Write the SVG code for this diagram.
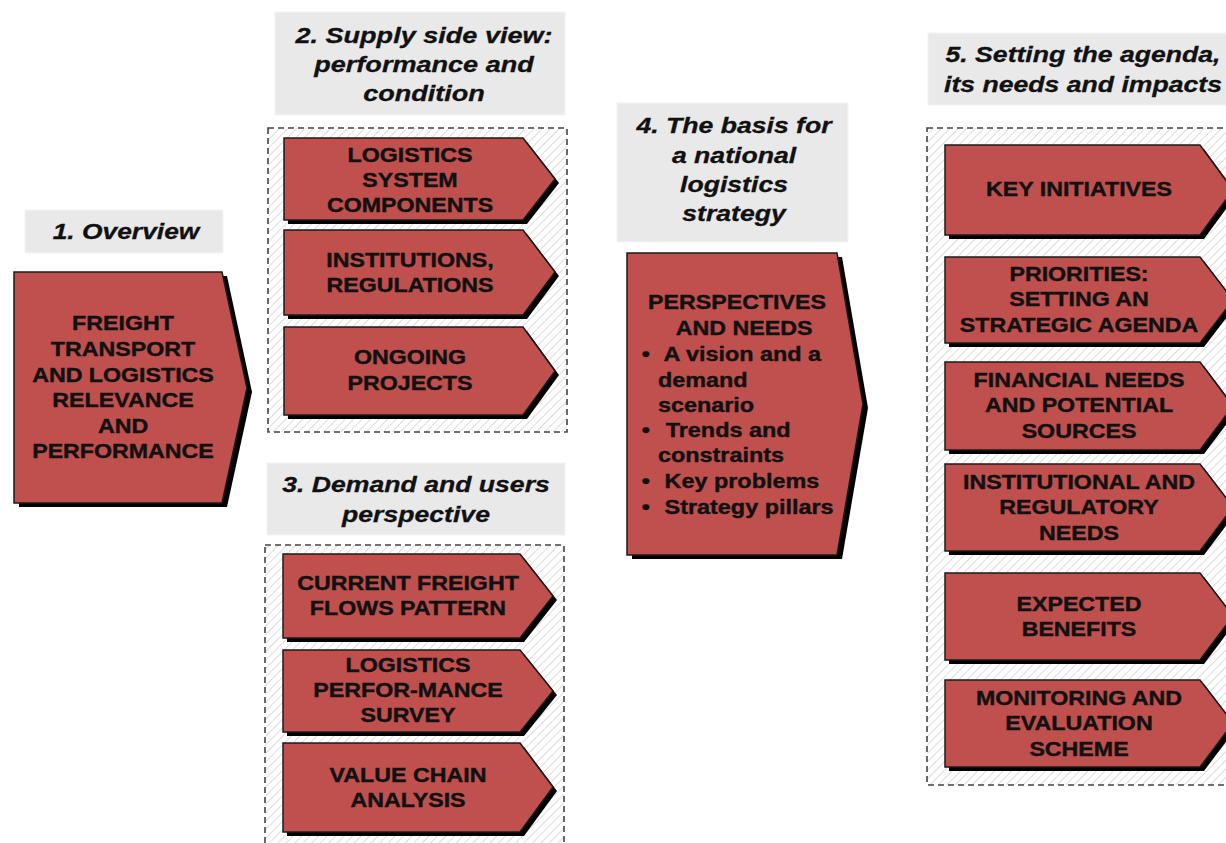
<svg xmlns="http://www.w3.org/2000/svg" width="1226" height="843" viewBox="0 0 1226 843">
<style>
.hd{fill:#E9E9E9;stroke:#F4F4F4;stroke-width:1}
.ht{font-family:"Liberation Sans",Arial,sans-serif;font-weight:bold;font-style:italic;font-size:22px;fill:#111;text-anchor:middle;stroke:#111;stroke-width:0.3}
.box{fill:#C0504D;stroke:#1a1a1a;stroke-width:1.5;stroke-linejoin:miter}
.sh{fill:#000}
.bt{font-family:"Liberation Sans",Arial,sans-serif;font-weight:bold;font-size:19.5px;fill:#111;text-anchor:middle;stroke:#111;stroke-width:0.4}
.bl{font-family:"Liberation Sans",Arial,sans-serif;font-weight:bold;font-size:19.5px;fill:#111;stroke:#111;stroke-width:0.4}
.cont{fill:url(#hatch);stroke:#444;stroke-width:1.6;stroke-dasharray:6 4}
</style>
<defs>
<pattern id="hatch" patternUnits="userSpaceOnUse" width="6" height="6" patternTransform="rotate(45)">
<rect width="6" height="6" fill="#FFFFFF"/>
<line x1="0" y1="0" x2="0" y2="6" stroke="#DCDCDC" stroke-width="2"/>
</pattern>
</defs>
<rect width="1226" height="843" fill="#FFFFFF"/>

<g id="containers">
<rect class="cont" x="268" y="128" width="299" height="304"/>
<rect class="cont" x="265" y="545" width="299" height="310"/>
<rect class="cont" x="927" y="128" width="320" height="657"/>
</g>

<g id="headings">
<g id="h1"><rect class="hd" x="25" y="210" width="198" height="43"/><g transform="translate(126,0) scale(1.2,1)"><text class="ht" x="0" y="239">1. Overview</text></g></g>
<g id="h2"><rect class="hd" x="275" y="12" width="290" height="103"/><g transform="translate(424,0) scale(1.23,1)"><text class="ht" x="0" y="43">2. Supply side view:</text><text class="ht" x="0" y="72">performance and</text><text class="ht" x="0" y="101">condition</text></g></g>
<g id="h3"><rect class="hd" x="267" y="463" width="298" height="72"/><g transform="translate(416,0) scale(1.21,1)"><text class="ht" x="0" y="492">3. Demand and users</text><text class="ht" x="0" y="522">perspective</text></g></g>
<g id="h4"><rect class="hd" x="617" y="103" width="231" height="139"/><g transform="translate(734,0) scale(1.21,1)"><text class="ht" x="0" y="133">4. The basis for</text><text class="ht" x="0" y="163">a national</text><text class="ht" x="0" y="192">logistics</text><text class="ht" x="0" y="221">strategy</text></g></g>
<g id="h5"><rect class="hd" x="928" y="33" width="310" height="72"/><g transform="translate(1083,0) scale(1.21,1)"><text class="ht" x="0" y="62">5. Setting the agenda,</text><text class="ht" x="0" y="92">its needs and impacts</text></g></g>
</g>

<g id="connectors"></g>

<g id="n1">
<polygon class="sh" transform="translate(5,4)" points="14,272 222,272 247,388 222,503 14,503"/>
<polygon class="box" points="14,272 222,272 247,388 222,503 14,503"/>
<g transform="translate(123,0) scale(1.19,1)"><text class="bt" x="0" y="330">FREIGHT</text><text class="bt" x="0" y="356">TRANSPORT</text><text class="bt" x="0" y="382">AND LOGISTICS</text><text class="bt" x="0" y="407">RELEVANCE</text><text class="bt" x="0" y="433">AND</text><text class="bt" x="0" y="458">PERFORMANCE</text></g>
</g>

<g id="n2a">
<polygon class="sh" transform="translate(4,4)" points="284,138 523,138 555,179 523,220 284,220"/>
<polygon class="box" points="284,138 523,138 555,179 523,220 284,220"/>
<g transform="translate(410,0) scale(1.19,1)"><text class="bt" x="0" y="162">LOGISTICS</text><text class="bt" x="0" y="187">SYSTEM</text><text class="bt" x="0" y="212">COMPONENTS</text></g>
</g>
<g id="n2b">
<polygon class="sh" transform="translate(4,4)" points="284,230 523,230 555,272 523,315 284,315"/>
<polygon class="box" points="284,230 523,230 555,272 523,315 284,315"/>
<g transform="translate(410,0) scale(1.19,1)"><text class="bt" x="0" y="267">INSTITUTIONS,</text><text class="bt" x="0" y="292">REGULATIONS</text></g>
</g>
<g id="n2c">
<polygon class="sh" transform="translate(4,4)" points="284,327 523,327 555,371 523,415 284,415"/>
<polygon class="box" points="284,327 523,327 555,371 523,415 284,415"/>
<g transform="translate(410,0) scale(1.19,1)"><text class="bt" x="0" y="364">ONGOING</text><text class="bt" x="0" y="390">PROJECTS</text></g>
</g>

<g id="n3a">
<polygon class="sh" transform="translate(4,4)" points="283,554 520,554 553,596 520,638 283,638"/>
<polygon class="box" points="283,554 520,554 553,596 520,638 283,638"/>
<g transform="translate(408,0) scale(1.19,1)"><text class="bt" x="0" y="590">CURRENT FREIGHT</text><text class="bt" x="0" y="615">FLOWS PATTERN</text></g>
</g>
<g id="n3b">
<polygon class="sh" transform="translate(4,4)" points="283,650 520,650 553,691 520,732 283,732"/>
<polygon class="box" points="283,650 520,650 553,691 520,732 283,732"/>
<g transform="translate(408,0) scale(1.19,1)"><text class="bt" x="0" y="672">LOGISTICS</text><text class="bt" x="0" y="697">PERFOR-MANCE</text><text class="bt" x="0" y="722">SURVEY</text></g>
</g>
<g id="n3c">
<polygon class="sh" transform="translate(4,4)" points="283,743 520,743 553,787 520,832 283,832"/>
<polygon class="box" points="283,743 520,743 553,787 520,832 283,832"/>
<g transform="translate(408,0) scale(1.19,1)"><text class="bt" x="0" y="782">VALUE CHAIN</text><text class="bt" x="0" y="807">ANALYSIS</text></g>
</g>

<g id="n4">
<polygon class="sh" transform="translate(5,4)" points="627,253 837,253 863,404 837,555 627,555"/>
<polygon class="box" points="627,253 837,253 863,404 837,555 627,555"/>
<g transform="translate(737,0) scale(1.19,1)"><text class="bt" x="0" y="309">PERSPECTIVES</text><text class="bt" x="6" y="335">AND NEEDS</text></g>
<g transform="translate(640,0) scale(1.2,1)">
<text class="bl" x="1.5" y="361">•</text><text class="bl" x="19.5" y="361">A vision and a</text>
<text class="bl" x="15" y="387">demand</text>
<text class="bl" x="15" y="412">scenario</text>
<text class="bl" x="1.5" y="437">•</text><text class="bl" x="21.5" y="437">Trends and</text>
<text class="bl" x="15" y="462">constraints</text>
<text class="bl" x="1.5" y="488">•</text><text class="bl" x="20.5" y="488">Key problems</text>
<text class="bl" x="1.5" y="514">•</text><text class="bl" x="20.5" y="514">Strategy pillars</text>
</g>
</g>

<g id="n5a">
<polygon class="sh" transform="translate(4,4)" points="945,145 1200,145 1233,190 1200,235 945,235"/>
<polygon class="box" points="945,145 1200,145 1233,190 1200,235 945,235"/>
<g transform="translate(1079,0) scale(1.19,1)"><text class="bt" x="0" y="196">KEY INITIATIVES</text></g>
</g>
<g id="n5b">
<polygon class="sh" transform="translate(4,4)" points="945,257 1200,257 1233,300 1200,343 945,343"/>
<polygon class="box" points="945,257 1200,257 1233,300 1200,343 945,343"/>
<g transform="translate(1079,0) scale(1.19,1)"><text class="bt" x="0" y="281">PRIORITIES:</text><text class="bt" x="0" y="306">SETTING AN</text><text class="bt" x="0" y="332">STRATEGIC AGENDA</text></g>
</g>
<g id="n5c">
<polygon class="sh" transform="translate(4,4)" points="945,362 1200,362 1233,406 1200,450 945,450"/>
<polygon class="box" points="945,362 1200,362 1233,406 1200,450 945,450"/>
<g transform="translate(1079,0) scale(1.19,1)"><text class="bt" x="0" y="387">FINANCIAL NEEDS</text><text class="bt" x="0" y="412">AND POTENTIAL</text><text class="bt" x="0" y="438">SOURCES</text></g>
</g>
<g id="n5d">
<polygon class="sh" transform="translate(4,4)" points="945,464 1200,464 1233,507 1200,551 945,551"/>
<polygon class="box" points="945,464 1200,464 1233,507 1200,551 945,551"/>
<g transform="translate(1079,0) scale(1.19,1)"><text class="bt" x="0" y="489">INSTITUTIONAL AND</text><text class="bt" x="0" y="514">REGULATORY</text><text class="bt" x="0" y="540">NEEDS</text></g>
</g>
<g id="n5e">
<polygon class="sh" transform="translate(4,4)" points="945,573 1200,573 1233,616 1200,660 945,660"/>
<polygon class="box" points="945,573 1200,573 1233,616 1200,660 945,660"/>
<g transform="translate(1079,0) scale(1.19,1)"><text class="bt" x="0" y="611">EXPECTED</text><text class="bt" x="0" y="636">BENEFITS</text></g>
</g>
<g id="n5f">
<polygon class="sh" transform="translate(4,4)" points="945,680 1200,680 1233,723 1200,767 945,767"/>
<polygon class="box" points="945,680 1200,680 1233,723 1200,767 945,767"/>
<g transform="translate(1079,0) scale(1.19,1)"><text class="bt" x="0" y="705">MONITORING AND</text><text class="bt" x="0" y="730">EVALUATION</text><text class="bt" x="0" y="756">SCHEME</text></g>
</g>
</svg>
